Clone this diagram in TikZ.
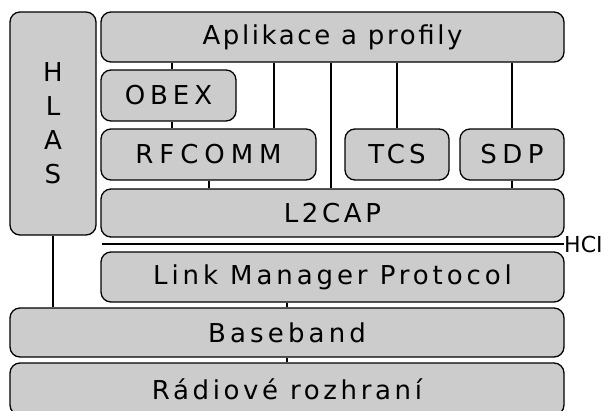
\documentclass[tikz,border=0pt]{standalone}
\usepackage{fontspec}
\setmainfont{DejaVu Sans}
\newfontfamily\layerfont{DejaVu Sans}
\usetikzlibrary{positioning}
\definecolor{layergray}{HTML}{CCCCCC}

\begin{document}
\begin{tikzpicture}[x=1pt,y=-1pt,
  layer/.style={draw,fill=layergray,rounded corners=10pt,line width=1.3pt,inner sep=0pt,
    font=\layerfont\fontsize{26}{34}\selectfont\addfontfeature{LetterSpace=#1}},
  layer/.default=16,
  link/.style={line width=1.3pt}]
  \useasboundingbox (0,0) rectangle (605,410);
  % upper stack
  \node[layer,minimum width=86pt,minimum height=223pt,align=center] (hlas) at (53,123.5) {H\\L\\A\\S};
  \node[layer=10,minimum width=463pt,minimum height=50pt] (app) at (332.5,37) {Aplikace a profily};
  \node[layer=19,minimum width=135pt,minimum height=51pt] (obex) at (168.5,95.5) {OBEX};
  \node[layer=23,minimum width=215pt,minimum height=51pt] (rfcomm) at (208.5,154.5) {RFCOMM};
  \node[layer=16,minimum width=104pt,minimum height=51pt] (tcs) at (397,154.5) {TCS};
  \node[layer=21,minimum width=104pt,minimum height=51pt] (sdp) at (512,154.5) {SDP};
  \node[layer=14,minimum width=463pt,minimum height=48pt] (l2cap) at (332.5,213) {L2CAP};
  % HCI boundary
  \coordinate (hcistart) at (102,244);
  \node[anchor=west,inner sep=0pt,font=\fontsize{22}{24}\selectfont] (hci) at (564,244) {HCI};
  \draw[link] (hcistart) -- (hci.west);
  % lower stack
  \node[layer=15,minimum width=463pt,minimum height=50pt] (lmp) at (332.5,277) {Link Manager Protocol};
  \node[layer=16,minimum width=554pt,minimum height=49pt] (baseband) at (287,332.5) {Baseband};
  \node[layer=14,minimum width=554pt,minimum height=52pt] (radio) at (287,389) {Rádiové rozhraní};
  % vertical links
  \foreach \x/\upper/\lower in {172/app/obex,274/app/rfcomm,331/app/l2cap,397/app/tcs,512/app/sdp,
      172/obex/rfcomm,209/rfcomm/l2cap,512/sdp/l2cap,53/hlas/baseband,287/lmp/baseband,287/baseband/radio}
    \draw[link] (\upper.south -| \x,0) -- (\lower.north -| \x,0);
\end{tikzpicture}
\end{document}
